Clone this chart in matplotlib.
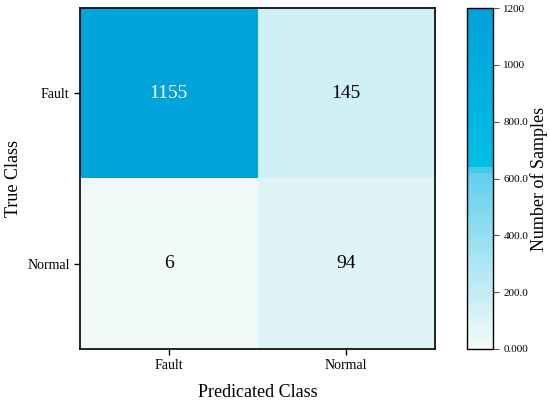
import numpy as np
import matplotlib
matplotlib.use("Agg")
import matplotlib.pyplot as plt
from matplotlib.colors import LinearSegmentedColormap, ListedColormap

classes = ["Fault", "Normal"]
counts = np.array([[1155, 145],
                   [6, 94]])
cbar_ticks = [0, 200, 400, 600, 800, 1000, 1200]
cbar_labels = ["0.000", "200.0", "400.0", "600.0", "800.0", "1000", "1200"]

plt.rcParams["font.family"] = ["Liberation Serif", "DejaVu Serif"]

base = LinearSegmentedColormap.from_list("blu", [
    (0.0, (241/255, 250/255, 249/255)),
    (0.52, (95/255, 207/255, 236/255)),
    (0.54, (0/255, 190/255, 228/255)),
    (1.0, (0/255, 162/255, 218/255)),
])
cmap = ListedColormap(base(np.linspace(0, 1, 60)))

fig = plt.figure(figsize=(5.5, 4.05), dpi=100)
ax = fig.add_axes([80/550, 1 - 349/405, 355/550, 341/405])
cax = fig.add_axes([467/550, 1 - 349/405, 26/550, 341/405])

im = ax.imshow(counts, cmap=cmap, vmin=0, vmax=1200, aspect="auto")
for i in range(2):
    for j in range(2):
        c = "white" if counts[i, j] > 600 else "black"
        ax.text(j, i, str(counts[i, j]), ha="center", va="center", color=c, fontsize=14)

ax.set_xticks(range(2))
ax.set_xticklabels(classes, fontsize=10)
ax.set_yticks(range(2))
ax.set_yticklabels(classes, fontsize=10)
ax.set_xlabel("Predicated Class", fontsize=13, labelpad=8)
ax.set_ylabel("True Class", fontsize=13, labelpad=4)
ax.tick_params(length=4, width=1)
for s in ax.spines.values():
    s.set_linewidth(1.2)

cb = fig.colorbar(im, cax=cax, ticks=cbar_ticks)
cb.ax.set_yticklabels(cbar_labels, fontsize=8)
cb.ax.tick_params(length=4, width=0.8, colors="#555555", labelcolor="black")
cb.set_label("Number of Samples", fontsize=13, labelpad=1)
cb.outline.set_linewidth(1.0)

fig.savefig("out.png", dpi=100)
